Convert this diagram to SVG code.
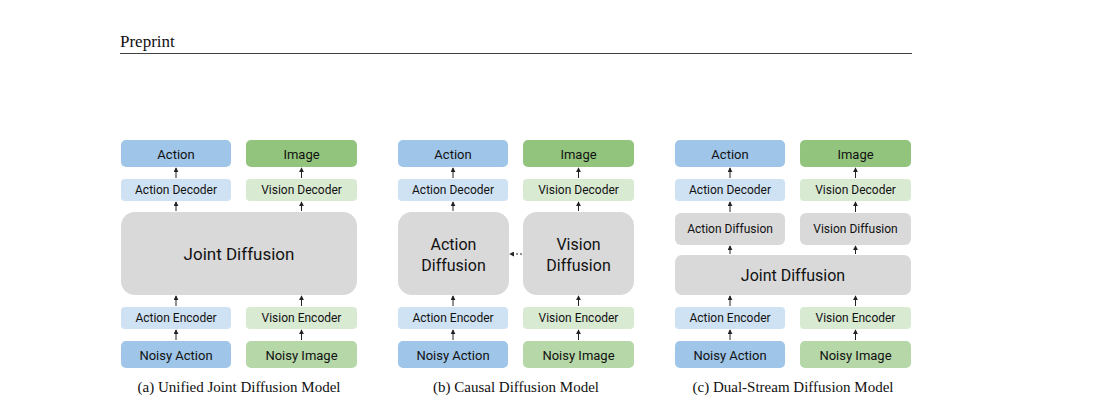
<svg xmlns="http://www.w3.org/2000/svg" width="1104" height="405" viewBox="0 0 1104 405">
<style>
.t{font-family:Roboto,"Liberation Sans",sans-serif;fill:#111;text-anchor:middle;dominant-baseline:central}
.s{font-size:12px}.m{font-size:13px}.l{font-size:17px}.x{font-size:16px}
.cap{font-family:"Liberation Serif",serif;font-size:15px;fill:#111;text-anchor:middle}
.a{fill:#9fc5e8}.la{fill:#cfe2f3}.g{fill:#93c47d}.lg{fill:#d9ead3}.ng{fill:#b6d7a8}.gr{fill:#d9d9d9}
.c line{stroke:#222;stroke-width:1}
</style>
<defs><marker id="h" viewBox="0 0 6 6" refX="5" refY="3" markerWidth="5" markerHeight="5" orient="auto"><path d="M0,0L6,3L0,6z" fill="#222"/></marker></defs>
<rect width="1104" height="405" fill="#fff"/>
<text x="120" y="47" font-family="Liberation Serif,serif" font-size="17" fill="#111">Preprint</text>
<line x1="120" y1="53.5" x2="912" y2="53.5" stroke="#111" stroke-width="0.8"/>

<!-- Panel a -->
<g id="a_action"><rect class="a" x="121" y="140" width="110" height="27" rx="5"/><text class="t m" x="176" y="154">Action</text></g>
<g id="a_image"><rect class="g" x="246" y="140" width="111" height="27" rx="5"/><text class="t m" x="301.5" y="154">Image</text></g>
<g id="a_adec"><rect class="la" x="121" y="179" width="110" height="22" rx="4"/><text class="t s" x="176" y="190">Action Decoder</text></g>
<g id="a_vdec"><rect class="lg" x="246" y="179" width="111" height="22" rx="4"/><text class="t s" x="301.5" y="190">Vision Decoder</text></g>
<g id="a_joint"><rect class="gr" x="121" y="212" width="236" height="83" rx="14"/><text class="t l" x="239" y="254">Joint Diffusion</text></g>
<g id="a_aenc"><rect class="la" x="121" y="307" width="110" height="22" rx="4"/><text class="t s" x="176" y="318">Action Encoder</text></g>
<g id="a_venc"><rect class="lg" x="246" y="307" width="111" height="22" rx="4"/><text class="t s" x="301.5" y="318">Vision Encoder</text></g>
<g id="a_nact"><rect class="a" x="121" y="341" width="110" height="27" rx="5"/><text class="t m" x="176" y="355">Noisy Action</text></g>
<g id="a_nimg"><rect class="ng" x="246" y="341" width="111" height="27" rx="5"/><text class="t m" x="301.5" y="355">Noisy Image</text></g>
<text class="cap" x="239" y="392">(a) Unified Joint Diffusion Model</text>

<!-- Panel b -->
<g id="b_action"><rect class="a" x="398" y="140" width="110" height="27" rx="5"/><text class="t m" x="453" y="154">Action</text></g>
<g id="b_image"><rect class="g" x="523" y="140" width="111" height="27" rx="5"/><text class="t m" x="578.5" y="154">Image</text></g>
<g id="b_adec"><rect class="la" x="398" y="179" width="110" height="22" rx="4"/><text class="t s" x="453" y="190">Action Decoder</text></g>
<g id="b_vdec"><rect class="lg" x="523" y="179" width="111" height="22" rx="4"/><text class="t s" x="578.5" y="190">Vision Decoder</text></g>
<g id="b_adif"><rect class="gr" x="398" y="212" width="111" height="83" rx="14"/><text class="t x" x="453.5" y="244">Action</text><text class="t x" x="453.5" y="265">Diffusion</text></g>
<g id="b_vdif"><rect class="gr" x="523" y="212" width="111" height="83" rx="14"/><text class="t x" x="578.5" y="244">Vision</text><text class="t x" x="578.5" y="265">Diffusion</text></g>
<g id="b_aenc"><rect class="la" x="398" y="307" width="110" height="22" rx="4"/><text class="t s" x="453" y="318">Action Encoder</text></g>
<g id="b_venc"><rect class="lg" x="523" y="307" width="111" height="22" rx="4"/><text class="t s" x="578.5" y="318">Vision Encoder</text></g>
<g id="b_nact"><rect class="a" x="398" y="341" width="110" height="27" rx="5"/><text class="t m" x="453" y="355">Noisy Action</text></g>
<g id="b_nimg"><rect class="ng" x="523" y="341" width="111" height="27" rx="5"/><text class="t m" x="578.5" y="355">Noisy Image</text></g>
<text class="cap" x="516" y="392">(b) Causal Diffusion Model</text>

<!-- Panel c -->
<g id="c_action"><rect class="a" x="675" y="140" width="110" height="27" rx="5"/><text class="t m" x="730" y="154">Action</text></g>
<g id="c_image"><rect class="g" x="800" y="140" width="111" height="27" rx="5"/><text class="t m" x="855.5" y="154">Image</text></g>
<g id="c_adec"><rect class="la" x="675" y="179" width="110" height="22" rx="4"/><text class="t s" x="730" y="190">Action Decoder</text></g>
<g id="c_vdec"><rect class="lg" x="800" y="179" width="111" height="22" rx="4"/><text class="t s" x="855.5" y="190">Vision Decoder</text></g>
<g id="c_adif"><rect class="gr" x="675" y="213" width="110" height="32" rx="6"/><text class="t s" x="730" y="229">Action Diffusion</text></g>
<g id="c_vdif"><rect class="gr" x="800" y="213" width="111" height="32" rx="6"/><text class="t s" x="855.5" y="229">Vision Diffusion</text></g>
<g id="c_joint"><rect class="gr" x="675" y="255" width="236" height="40" rx="7"/><text class="t x" x="793" y="275">Joint Diffusion</text></g>
<g id="c_aenc"><rect class="la" x="675" y="307" width="110" height="22" rx="4"/><text class="t s" x="730" y="318">Action Encoder</text></g>
<g id="c_venc"><rect class="lg" x="800" y="307" width="111" height="22" rx="4"/><text class="t s" x="855.5" y="318">Vision Encoder</text></g>
<g id="c_nact"><rect class="a" x="675" y="341" width="110" height="27" rx="5"/><text class="t m" x="730" y="355">Noisy Action</text></g>
<g id="c_nimg"><rect class="ng" x="800" y="341" width="111" height="27" rx="5"/><text class="t m" x="855.5" y="355">Noisy Image</text></g>
<text class="cap" x="793" y="392">(c) Dual-Stream Diffusion Model</text>

<g id="connectors" class="c">
<line x1="176" y1="178" x2="176" y2="168" marker-end="url(#h)"/>
<line x1="301.5" y1="178" x2="301.5" y2="168" marker-end="url(#h)"/>
<line x1="176" y1="211" x2="176" y2="202" marker-end="url(#h)"/>
<line x1="301.5" y1="211" x2="301.5" y2="202" marker-end="url(#h)"/>
<line x1="176" y1="306" x2="176" y2="296" marker-end="url(#h)"/>
<line x1="301.5" y1="306" x2="301.5" y2="296" marker-end="url(#h)"/>
<line x1="176" y1="340" x2="176" y2="330" marker-end="url(#h)"/>
<line x1="301.5" y1="340" x2="301.5" y2="330" marker-end="url(#h)"/>

<line x1="453" y1="178" x2="453" y2="168" marker-end="url(#h)"/>
<line x1="578.5" y1="178" x2="578.5" y2="168" marker-end="url(#h)"/>
<line x1="453" y1="211" x2="453" y2="202" marker-end="url(#h)"/>
<line x1="578.5" y1="211" x2="578.5" y2="202" marker-end="url(#h)"/>
<line x1="453" y1="306" x2="453" y2="296" marker-end="url(#h)"/>
<line x1="578.5" y1="306" x2="578.5" y2="296" marker-end="url(#h)"/>
<line x1="453" y1="340" x2="453" y2="330" marker-end="url(#h)"/>
<line x1="578.5" y1="340" x2="578.5" y2="330" marker-end="url(#h)"/>
<line x1="522" y1="254" x2="510" y2="254" stroke-dasharray="2,2" marker-end="url(#h)"/>

<line x1="730" y1="178" x2="730" y2="168" marker-end="url(#h)"/>
<line x1="855.5" y1="178" x2="855.5" y2="168" marker-end="url(#h)"/>
<line x1="730" y1="212" x2="730" y2="202" marker-end="url(#h)"/>
<line x1="855.5" y1="212" x2="855.5" y2="202" marker-end="url(#h)"/>
<line x1="730" y1="254" x2="730" y2="246" marker-end="url(#h)"/>
<line x1="855.5" y1="254" x2="855.5" y2="246" marker-end="url(#h)"/>
<line x1="730" y1="306" x2="730" y2="296" marker-end="url(#h)"/>
<line x1="855.5" y1="306" x2="855.5" y2="296" marker-end="url(#h)"/>
<line x1="730" y1="340" x2="730" y2="330" marker-end="url(#h)"/>
<line x1="855.5" y1="340" x2="855.5" y2="330" marker-end="url(#h)"/>
</g>
</svg>
